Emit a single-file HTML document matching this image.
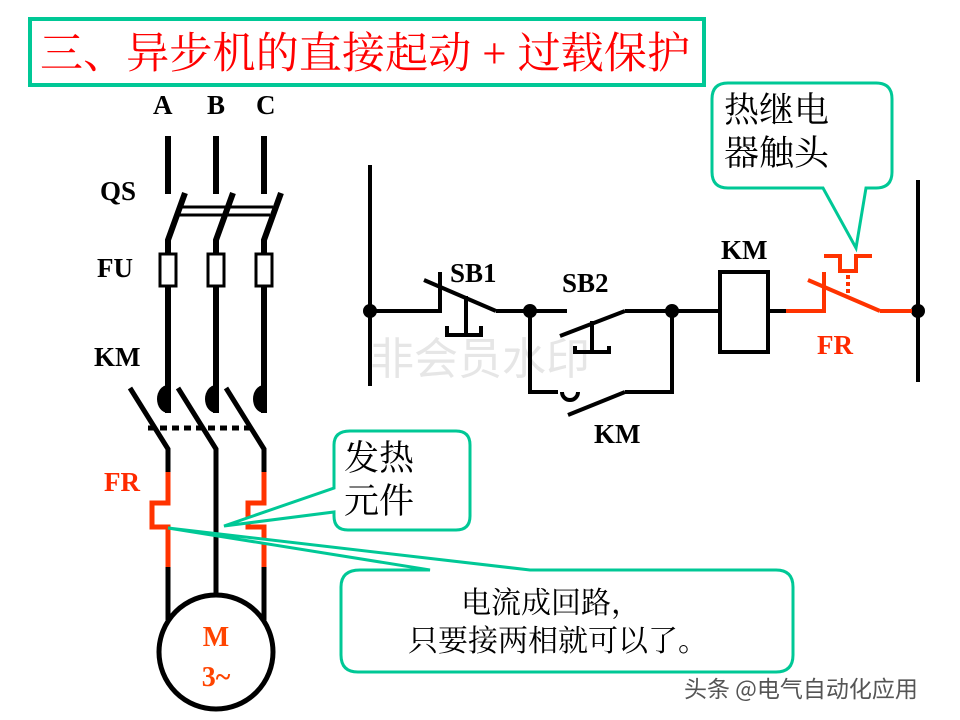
<!DOCTYPE html>
<html><head><meta charset="utf-8"><style>
html,body{margin:0;padding:0;background:#fff;}
svg{display:block;}
.b{font-family:"Liberation Serif",serif;font-weight:bold;}
.c{font-family:"Liberation Serif","Noto Serif CJK SC",serif;}
</style></head><body>
<svg width="960" height="720" viewBox="0 0 960 720" xmlns="http://www.w3.org/2000/svg">
<rect x="0" y="0" width="960" height="720" fill="#fff"/>
<!-- title -->
<rect x="30" y="19" width="674" height="66" fill="#fff" stroke="#00c896" stroke-width="4"/>
<text x="40" y="68" class="c" font-size="43" fill="#ff0000" textLength="650">三、异步机的直接起动 + 过载保护</text>
<!-- watermark -->
<text x="370" y="374" font-family="'Noto Sans CJK SC',sans-serif" font-size="44" fill="#e6e6e6">非会员水印</text>
<!-- main circuit labels -->
<g class="b" font-size="27" fill="#000">
<text x="153" y="114">A</text><text x="207" y="114">B</text><text x="256" y="114">C</text>
<text x="100" y="200">QS</text><text x="97" y="277">FU</text><text x="94" y="366">KM</text>
</g>
<text x="104" y="491" class="b" font-size="27" fill="#ff2a00">FR</text>
<g stroke="#000" stroke-width="6" fill="none">
<line x1="168" y1="136" x2="168" y2="194"/><line x1="216" y1="136" x2="216" y2="194"/><line x1="264" y1="136" x2="264" y2="194"/>
<polyline points="185,193 168,240 168,413"/>
<polyline points="233,193 216,240 216,413"/>
<polyline points="281,193 264,240 264,413"/>
</g>
<g stroke="#000" stroke-width="3" fill="none">
<line x1="180" y1="207" x2="273" y2="207"/><line x1="178" y1="215" x2="270" y2="215"/>
</g>
<g stroke="#000" stroke-width="3" fill="#fff">
<rect x="160" y="254" width="16" height="32"/><rect x="208" y="254" width="16" height="32"/><rect x="256" y="254" width="16" height="32"/>
</g>
<g fill="#000">
<path d="M168,385 A11,14 0 0 0 168,413 Z"/>
<path d="M216,385 A11,14 0 0 0 216,413 Z"/>
<path d="M264,385 A11,14 0 0 0 264,413 Z"/>
</g>
<g stroke="#000" stroke-width="5" fill="none">
<polyline points="130,388 168,449 168,472"/>
<polyline points="178,388 216,449 216,596"/>
<polyline points="226,388 264,449 264,472"/>
</g>
<line x1="148" y1="428" x2="250" y2="428" stroke="#000" stroke-width="5" stroke-dasharray="7,5"/>
<g stroke="#ff3300" stroke-width="5" fill="none">
<polyline points="168,472 168,503 152,503 152,527 168,527 168,567"/>
<polyline points="264,472 264,503 248,503 248,527 264,527 264,567"/>
</g>
<g stroke="#000" stroke-width="5" fill="none">
<line x1="168" y1="567" x2="168" y2="620"/><line x1="264" y1="567" x2="264" y2="620"/>
<circle cx="216" cy="652" r="57" fill="#fff"/>
</g>
<text x="216" y="646" text-anchor="middle" class="b" font-size="28" fill="#ff4400">M</text>
<text x="216" y="686" text-anchor="middle" class="b" font-size="28" fill="#ff4400">3~</text>
<!-- callout 1 -->
<path d="M350,431 H456 Q470,431 470,445 V516 Q470,530 456,530 H348 Q334,530 334,516 V512 L224,526 L334,488 V445 Q334,431 350,431 Z" fill="#fff" stroke="#00c896" stroke-width="3"/>
<text x="344" y="470" class="c" font-size="35" fill="#000">发热</text>
<text x="344" y="513" class="c" font-size="35" fill="#000">元件</text>
<!-- callout 2 -->
<path d="M360,570 H430 L168,528 L530,570 H776 Q793,570 793,587 V655 Q793,672 776,672 H358 Q341,672 341,655 V587 Q341,570 360,570 Z" fill="#fff" stroke="#00c896" stroke-width="3"/>
<text x="551" y="613" text-anchor="middle" class="c" font-size="30" fill="#000">电流成回路，</text>
<text x="558" y="651" text-anchor="middle" class="c" font-size="30" fill="#000">只要接两相就可以了。</text>
<!-- control circuit -->
<g stroke="#000" stroke-width="4" fill="none">
<line x1="370" y1="165" x2="370" y2="386"/>
<line x1="918" y1="180" x2="918" y2="382"/>
<polyline points="370,311 440,311 440,272"/>
<line x1="424" y1="280" x2="496" y2="311"/>
<line x1="496" y1="311" x2="567" y2="311"/>
<line x1="466" y1="296" x2="466" y2="334"/>
<polyline points="447,326 447,335 481,335 481,326"/>
<line x1="560" y1="336" x2="625" y2="311"/>
<polyline points="625,311 672,311 720,311"/>
<line x1="592" y1="321" x2="592" y2="351"/>
<polyline points="575,346 575,352 609,352 609,346"/>
<polyline points="530,311 530,392 558,392"/>
<path d="M562,392 A8,8 0 0 0 578,392"/>
<line x1="568" y1="415" x2="625" y2="392"/>
<polyline points="625,392 672,392 672,311"/>
<rect x="720" y="272" width="48" height="80"/>
<line x1="768" y1="311" x2="786" y2="311"/>
</g>
<g fill="#000">
<circle cx="370" cy="311" r="7"/><circle cx="530" cy="311" r="7"/><circle cx="672" cy="311" r="7"/><circle cx="918" cy="311" r="7"/>
</g>
<g stroke="#ff3300" stroke-width="4" fill="none">
<polyline points="786,311 824,311 824,272"/>
<line x1="808" y1="280" x2="880" y2="311"/>
<line x1="880" y1="311" x2="912" y2="311"/>
<polyline points="824,256 840,256 840,271 856,271 856,256 872,256"/>
<line x1="848" y1="275" x2="848" y2="298" stroke-dasharray="4,3"/>
</g>
<g class="b" font-size="27" fill="#000">
<text x="450" y="282">SB1</text><text x="562" y="292">SB2</text>
<text x="721" y="259">KM</text><text x="594" y="443">KM</text>
</g>
<text x="817" y="354" class="b" font-size="27" fill="#ff2a00">FR</text>
<!-- callout 3 -->
<path d="M728,83 H876 Q892,83 892,99 V172 Q892,188 876,188 H866 L856,248 L823,188 H728 Q712,188 712,172 V99 Q712,83 728,83 Z" fill="#fff" stroke="#00c896" stroke-width="3"/>
<text x="724" y="122" class="c" font-size="35" fill="#000">热继电</text>
<text x="724" y="165" class="c" font-size="35" fill="#000">器触头</text>
<!-- footer watermark -->
<text x="684" y="697" font-family="'Noto Sans CJK SC',sans-serif" font-size="23" fill="#555">头条 @电气自动化应用</text>
</svg>
</body></html>
